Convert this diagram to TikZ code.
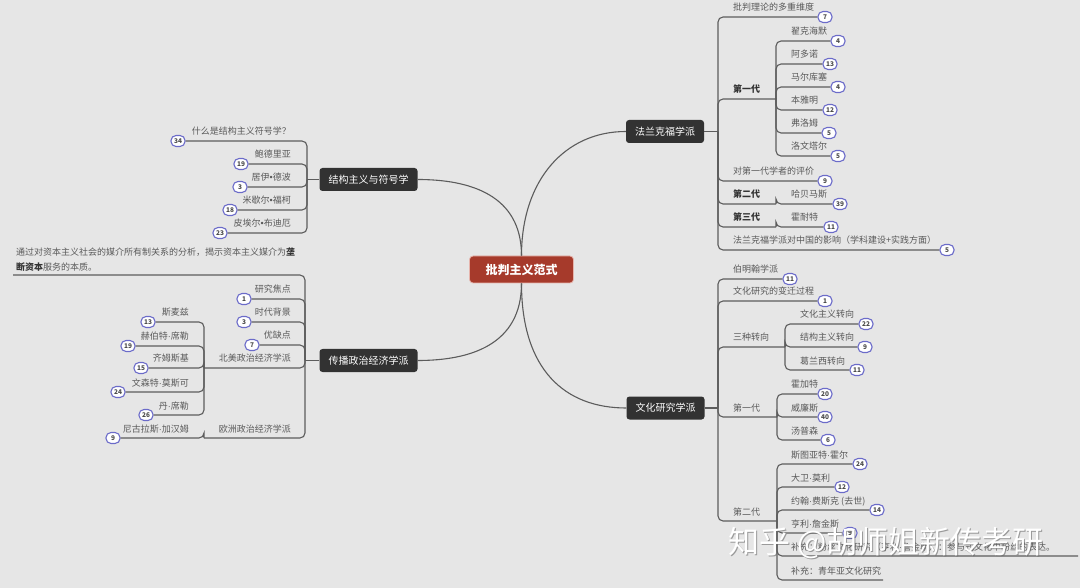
\documentclass[tikz,border=0pt]{standalone}
\usepackage{fontspec}
\setmainfont{Noto Sans CJK SC}
\newfontfamily\latinfont{Liberation Sans}
\newcommand{\pt}{{\latinfont ·}}
\newcommand{\bola}{{\latinfont •}}
\usetikzlibrary{positioning}
\definecolor{fundo}{HTML}{E6E6E6}
\definecolor{linha}{HTML}{5C5C5C}
\definecolor{texto}{HTML}{595959}
\definecolor{escuro}{HTML}{323232}
\definecolor{raizcor}{HTML}{A63A2B}
\definecolor{raizborda}{HTML}{E6B4AC}
\definecolor{selocor}{HTML}{6B6BC9}
\definecolor{numcor}{HTML}{4A4A4A}
\tikzset{
  ramo/.style={draw=linha, line width=1.1pt, rounded corners=5pt},
  curva/.style={draw=linha, line width=1.1pt},
  leaf/.style={inner sep=0pt, text=texto, font=\fontsize{9}{10}\selectfont},
  forte/.style={leaf, text=escuro, font=\fontsize{9}{10}\selectfont\bfseries},
  selo/.style={draw=selocor, fill=white, line width=1.1pt, rounded corners=5pt,
    minimum width=14pt, minimum height=11pt, inner xsep=2.5pt, inner ysep=0pt,
    text=numcor, font=\fontsize{6.5}{7}\selectfont\bfseries},
  tema/.style={fill=escuro, text=white, rounded corners=3pt, minimum height=23pt,
    inner xsep=9pt, font=\fontsize{10}{12}\selectfont},
  raizbox/.style={fill=raizcor, draw=raizborda, line width=0.8pt, text=white,
    rounded corners=3.5pt, minimum height=27pt, inner xsep=16pt,
    font=\fontsize{12}{14}\selectfont\bfseries},
  marca/.style={anchor=west, inner sep=0pt, text=white, font=\fontsize{31}{33}\selectfont},
  marcasombra/.style={marca, text=black!60, text opacity=0.6},
}
\newcommand{\folhaR}[8][leaf]{%
  % #1 = estilo, #2 = nome, #3 = junção, #4 = x do texto, #5 = y da linha, #6 = x do selo, #7 = número, #8 = texto
  \node[#1, anchor=base west] (#2) at (#4,#5-6) {#8};
  \node[selo] (#2s) at (#6,#5) {#7};
  \draw[ramo] (#3) |- (#2s.west);
}
\newcommand{\folhaL}[8][leaf]{%
  % igual, para o lado esquerdo
  \node[#1, anchor=base east] (#2) at (#4,#5-6) {#8};
  \node[selo] (#2s) at (#6,#5) {#7};
  \draw[ramo] (#3) |- (#2s.east);
}
\newcommand{\grupoR}[7][leaf]{%
  % #1 = estilo, #2 = nome, #3 = junção, #4 = x do texto, #5 = y da linha, #6 = x do fim, #7 = texto
  \node[#1, anchor=base west] (#2) at (#4,#5-6) {#7};
  \coordinate (#2j) at (#6,#5);
  \draw[ramo] (#3) |- (#2j);
}
\newcommand{\grupoL}[7][leaf]{%
  \node[#1, anchor=base east] (#2) at (#4,#5-6) {#7};
  \coordinate (#2j) at (#6,#5);
  \draw[ramo] (#3) |- (#2j);
}
\begin{document}
\begin{tikzpicture}[x=1pt, y=-1pt]
    \useasboundingbox (0,0) rectangle (1080,588);
    \fill[fundo] (0,0) rectangle (1080,588);

    % raiz e temas
    \node[raizbox] (raiz) at (521.5,269.5) {批判主义范式};
    \node[tema] (frank) at (665,131.5) {法兰克福学派};
    \node[tema] (cult) at (665.5,408) {文化研究学派};
    \node[tema] (estr) at (368.5,179.5) {结构主义与符号学};
    \node[tema] (econ) at (368.5,360.5) {传播政治经济学派};

    \draw[curva] (raiz.north) .. controls (521.5,180) and (565,131.5) .. (frank.west);
    \draw[curva] (raiz.north) .. controls (521.5,195) and (470,179.5) .. (estr.east);
    \draw[curva] (raiz.south) .. controls (521.5,345) and (470,360.5) .. (econ.east);
    \draw[curva] (raiz.south) .. controls (521.5,370) and (565,408) .. (cult.west);

    % 法兰克福学派
    \coordinate (fj) at (718,131.5);
    \draw[ramo] (frank.east) -- (fj);
    \folhaR{f1}{fj}{733}{17}{825}{7}{批判理论的多重维度}
    \grupoR[forte]{f2}{fj}{733}{99}{776}{第一代}
    \folhaR{f21}{f2j}{791}{41}{838}{4}{翟克海默}
    \folhaR{f22}{f2j}{791}{64}{830}{13}{阿多诺}
    \folhaR{f23}{f2j}{791}{87}{838}{4}{马尔库塞}
    \folhaR{f24}{f2j}{791}{110}{830}{12}{本雅明}
    \folhaR{f25}{f2j}{791}{133}{829}{5}{弗洛姆}
    \folhaR{f26}{f2j}{791}{156}{838}{5}{洛文塔尔}
    \folhaR{f3}{fj}{733}{181}{825}{9}{对第一代学者的评价}
    \grupoR[forte]{f4}{fj}{733}{204}{776}{第二代}
    \folhaR{f41}{f4j}{791}{204}{840}{39}{哈贝马斯}
    \grupoR[forte]{f5}{fj}{733}{227}{776}{第三代}
    \folhaR{f51}{f5j}{791}{227}{831}{11}{霍耐特}
    \folhaR{f6}{fj}{733}{250}{947}{5}{法兰克福学派对中国的影响（学科建设+实践方面）}

    % 文化研究学派
    \coordinate (cj) at (718,408);
    \draw[ramo] (cult.east) -- (cj);
    \folhaR{c1}{cj}{733}{279}{790}{11}{伯明翰学派}
    \folhaR{c2}{cj}{733}{301}{825}{1}{文化研究的变迁过程}
    \grupoR{c3}{cj}{733}{347}{785}{三种转向}
    \folhaR{c31}{c3j}{800}{324}{866}{22}{文化主义转向}
    \folhaR{c32}{c3j}{800}{347}{865}{9}{结构主义转向}
    \folhaR{c33}{c3j}{800}{370}{857}{11}{葛兰西转向}
    \grupoR{c4}{cj}{733}{417}{777}{第一代}
    \folhaR{c41}{c4j}{791}{394}{825}{20}{霍加特}
    \folhaR{c42}{c4j}{791}{417}{825}{40}{威廉斯}
    \folhaR{c43}{c4j}{791}{440}{828}{6}{汤普森}
    \grupoR{c5}{cj}{733}{521}{777}{第二代}
    \folhaR{c51}{c5j}{791}{464}{860}{24}{斯图亚特\pt 霍尔}
    \folhaR{c52}{c5j}{791}{487}{842}{12}{大卫\pt 莫利}
    \folhaR{c53}{c5j}{791}{510}{877}{14}{约翰\pt 费斯克 (去世)}
    \folhaR{c54}{c5j}{791}{533}{850}{9}{亨利\pt 詹金斯}
    \grupoR{c55}{c5j}{791}{556}{1078}{补充：粉丝文化研究（亨利\pt 詹金斯）：参与式文化中粉丝的表达。}
    \grupoR{c56}{c5j}{791}{580}{883}{补充：青年亚文化研究}

    % 结构主义与符号学
    \coordinate (sj) at (307,179.5);
    \draw[ramo] (estr.west) -- (sj);
    \folhaL{s1}{sj}{291}{141}{178}{34}{什么是结构主义符号学？}
    \folhaL{s2}{sj}{291}{164}{241}{19}{鲍德里亚}
    \folhaL{s3}{sj}{291}{187}{240}{3}{居伊\bola 德波}
    \folhaL{s4}{sj}{291}{210}{230}{18}{米歇尔\bola 福柯}
    \folhaL{s5}{sj}{291}{233}{220}{23}{皮埃尔\bola 布迪厄}

    % 传播政治经济学派
    \coordinate (ej) at (305,360.5);
    \draw[ramo] (econ.west) -- (ej);
    \node[leaf, anchor=south west, align=left, font=\fontsize{9}{15}\selectfont] (e1) at (16,271.5)
      {通过对资本主义社会的媒介所有制关系的分析，揭示资本主义媒介为{\bfseries\color{escuro}垄}\\{\bfseries\color{escuro}断资本}服务的本质。};
    \coordinate (e1j) at (13,275);
    \draw[ramo] (ej) |- (e1j);
    \folhaL{e2}{ej}{291}{299}{244}{1}{研究焦点}
    \folhaL{e3}{ej}{291}{322}{244}{3}{时代背景}
    \folhaL{e4}{ej}{291}{345}{252}{7}{优缺点}
    \grupoL{e5}{ej}{291}{368}{204}{北美政治经济学派}
    \folhaL{e51}{e5j}{189}{322}{148}{13}{斯麦兹}
    \folhaL{e52}{e5j}{189}{346}{128}{19}{赫伯特\pt 席勒}
    \folhaL{e53}{e5j}{189}{368}{141}{15}{齐姆斯基}
    \folhaL{e54}{e5j}{189}{392}{118}{24}{文森特\pt 莫斯可}
    \folhaL{e55}{e5j}{189}{415}{146}{26}{丹\pt 席勒}
    \grupoL{e6}{ej}{291}{438}{204}{欧洲政治经济学派}
    \folhaL{e61}{e6j}{189}{438}{113}{9}{尼古拉斯\pt 加汉姆}

    % marca d'água
    \node[marcasombra] (ms) at (729.5,544.5) {知乎 @胡师姐新传考研};
    \node[marca] (mc) at (728,543) {知乎 @胡师姐新传考研};
\end{tikzpicture}
\end{document}
